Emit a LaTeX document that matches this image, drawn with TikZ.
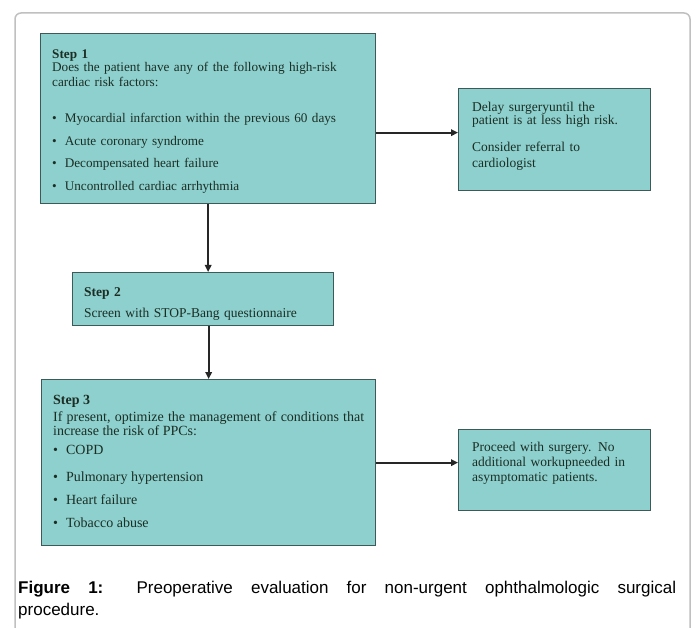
\documentclass[tikz,border=0pt]{standalone}
\usepackage{fontspec}
\setmainfont{Liberation Serif}
\newfontfamily\capfont{Liberation Sans}
\usetikzlibrary{arrows.meta}
\definecolor{boxfill}{RGB}{141,208,206}
\definecolor{boxline}{RGB}{62,90,88}
\definecolor{boxtext}{RGB}{28,46,36}
\definecolor{framegray}{RGB}{192,192,192}
\tikzset{
  stepbox/.style={draw=boxline, line width=1.3pt, fill=boxfill, inner sep=0pt, anchor=north west},
  boxtxt/.style={text=boxtext, inner sep=0pt, anchor=north west, align=left,
    font=\fontsize{13.5}{14}\selectfont},
  flow/.style={-{Triangle[length=7pt,width=6.5pt]}, line width=1.8pt, draw=black!85}
}
\newcommand{\bul}{\textbullet\hspace{8pt}}
\begin{document}
\begin{tikzpicture}[x=1pt, y=-1pt]
\useasboundingbox (0,0) rectangle (696,628);
\fill[white] (0,0) rectangle (696,628);
\draw[framegray, line width=1.5pt, rounded corners=6pt] (15,628) -- (15,13) -- (690,13) -- (690,628);
% boxes
\node[stepbox, minimum width=335pt, minimum height=170pt] (s1) at (40,33) {};
\node[stepbox, minimum width=192pt, minimum height=102pt] (d) at (458,88) {};
\node[stepbox, minimum width=261pt, minimum height=53pt] (s2) at (72,272) {};
\node[stepbox, minimum width=334pt, minimum height=166pt] (s3) at (41,379) {};
\node[stepbox, minimum width=192pt, minimum height=81pt] (p) at (458,429) {};
% texts
\node[boxtxt, text width=315pt, font=\fontsize{13.2}{14}\selectfont] (s1t) at (52,50) {\textbf{Step 1}\\[-1pt]
  Does the patient have any of the following high-risk\\[1pt]
  cardiac risk factors:\\[22pt]
  \bul Myocardial infarction within the previous 60 days\\[8.5pt]
  \bul Acute coronary syndrome\\[8.5pt]
  \bul Decompensated heart failure\\[8.5pt]
  \bul Uncontrolled cardiac arrhythmia};
\node[boxtxt, text width=172pt] (dt) at (472,102) {Delay surgeryuntil the\\[-1pt]
  patient is at less high risk.\\[13pt]
  Consider referral to\\[2pt]
  cardiologist};
\node[boxtxt, text width=240pt] (s2t) at (84,287) {\textbf{Step 2}\\[7pt]
  Screen with STOP-Bang questionnaire};
\node[boxtxt, text width=311pt, align=justify, font=\fontsize{14}{14}\selectfont] (s3t) at (53,395) {\textbf{Step 3}\\[3pt]
  If present, optimize the management of conditions that\linebreak
  increase the risk of PPCs:\\[5pt]
  \bul COPD\\[13pt]
  \bul Pulmonary hypertension\\[9pt]
  \bul Heart failure\\[9pt]
  \bul Tobacco abuse};
\node[boxtxt, text width=172pt] (pt) at (472,442) {Proceed with surgery. No\\[1pt]
  additional workupneeded in\\[1pt]
  asymptomatic patients.};
% caption
\node[inner sep=0pt, anchor=north west, text width=658pt, align=justify,
  font=\capfont\fontsize{17}{22}\selectfont] (cap) at (18,580.5)
  {\textbf{Figure 1:} Preoperative evaluation for non-urgent ophthalmologic surgical\linebreak procedure.};
% arrows
\coordinate (din) at ([yshift=7pt]d.west);
\draw[flow] (s1.east |- din) -- (din);
\draw[flow] (s1.south) -- (s1.south |- s2.north);
\draw[flow] (s2.south -| s3.north) -- (s3.north);
\draw[flow] (s3.east) -- (s3.east -| p.west);
\end{tikzpicture}
\end{document}
